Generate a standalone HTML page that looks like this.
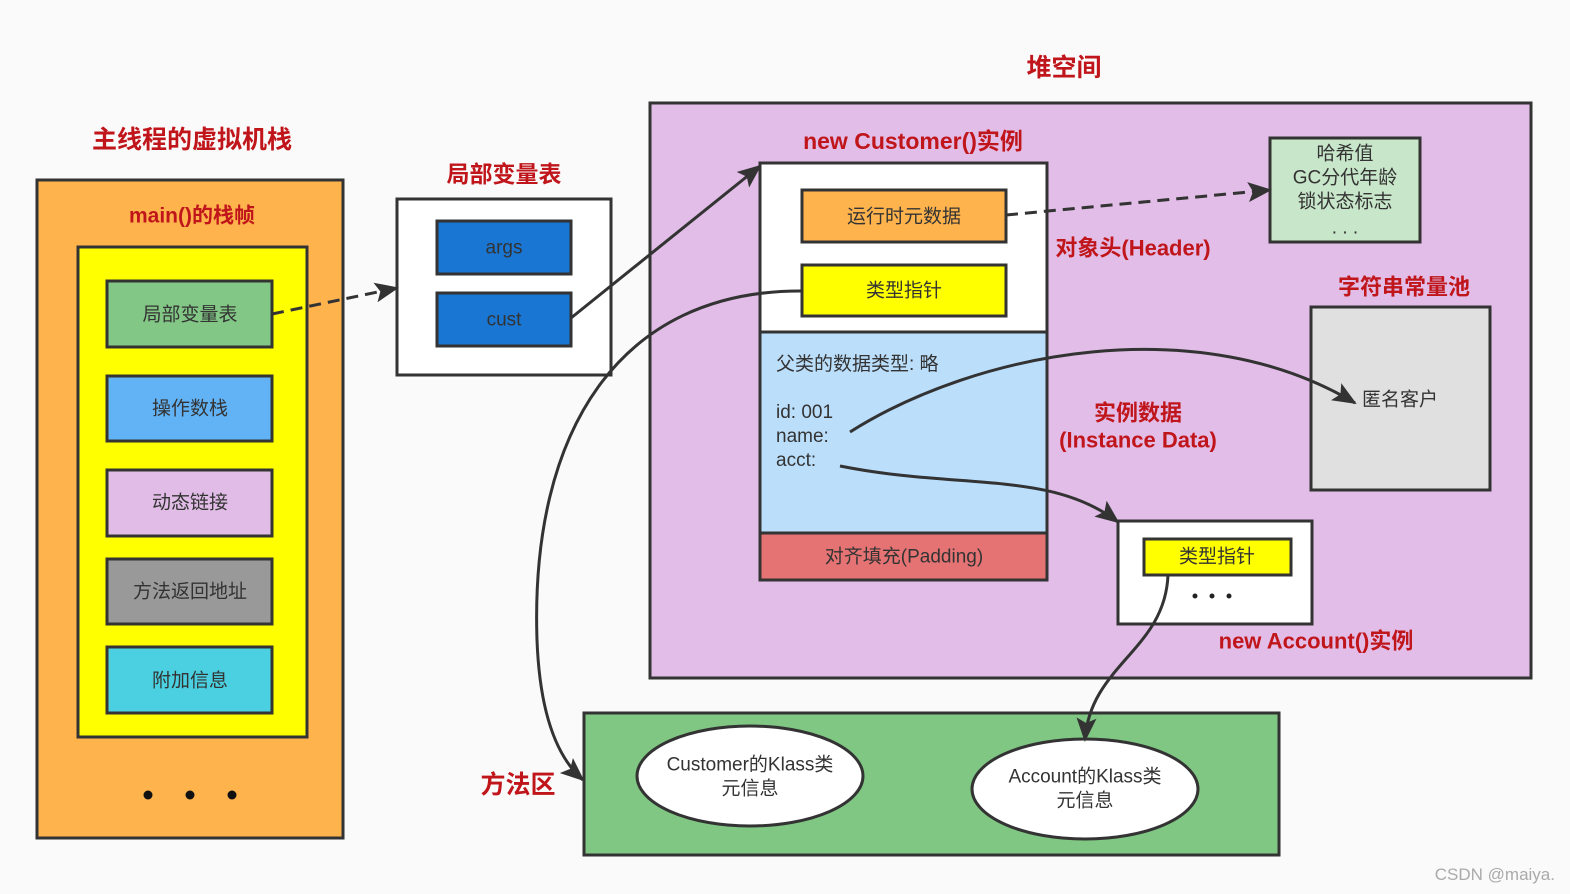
<!DOCTYPE html>
<html><head><meta charset="utf-8"><style>
html,body{margin:0;padding:0;background:#fafafa;}
svg{display:block;}
text{font-family:"Liberation Sans","Noto Sans CJK SC",sans-serif;}
.t{font-size:19px;fill:#333;text-anchor:middle;dominant-baseline:central;}
.r{font-weight:bold;fill:#c0161b;text-anchor:middle;dominant-baseline:central;}
.b{stroke:#333;stroke-width:3;}
</style></head><body>
<svg width="1570" height="894" viewBox="0 0 1570 894" xmlns="http://www.w3.org/2000/svg">
<defs>
<marker id="a" markerWidth="12" markerHeight="10" refX="11" refY="5" orient="auto" markerUnits="userSpaceOnUse" viewBox="0 0 12 10">
<path d="M0,0 L12,5 L0,10 L3,5 Z" fill="#333"/></marker>
<marker id="A" markerWidth="24" markerHeight="20" refX="22" refY="10" orient="auto" markerUnits="userSpaceOnUse" viewBox="0 0 24 20">
<path d="M0,0 L24,10 L0,20 L5,10 Z" fill="#333"/></marker>
</defs>
<rect width="1570" height="894" fill="#fafafa"/>

<!-- stack -->
<text class="r" x="192" y="140" font-size="25">主线程的虚拟机栈</text>
<rect x="37" y="180" width="306" height="658" fill="#ffb34d" class="b"/>
<text class="r" x="192" y="216" font-size="21">main()的栈帧</text>
<rect x="78" y="247" width="229" height="490" fill="#ffff00" class="b"/>
<rect x="107" y="281" width="165" height="66" fill="#82c785" class="b"/><text class="t" x="190" y="315">局部变量表</text>
<rect x="107" y="376" width="165" height="65" fill="#62b3f5" class="b"/><text class="t" x="190" y="409">操作数栈</text>
<rect x="107" y="470" width="165" height="66" fill="#e0bce6" class="b"/><text class="t" x="190" y="503">动态链接</text>
<rect x="107" y="559" width="165" height="65" fill="#999999" class="b"/><text class="t" x="190" y="592">方法返回地址</text>
<rect x="107" y="647" width="165" height="66" fill="#4ad0e0" class="b"/><text class="t" x="190" y="681">附加信息</text>
<circle cx="148" cy="795" r="4.5" fill="#111"/><circle cx="190" cy="795" r="4.5" fill="#111"/><circle cx="232" cy="795" r="4.5" fill="#111"/>

<!-- local var table -->
<text class="r" x="504" y="174" font-size="23">局部变量表</text>
<rect x="397" y="199" width="214" height="176" fill="#fff" class="b"/>
<rect x="437" y="221" width="134" height="53" fill="#1976d2" class="b"/><text class="t" x="504" y="248">args</text>
<rect x="437" y="293" width="134" height="53" fill="#1976d2" class="b"/><text class="t" x="504" y="320">cust</text>

<!-- heap -->
<text class="r" x="1064" y="68" font-size="25">堆空间</text>
<rect x="650" y="103" width="881" height="575" fill="#e1bde7" class="b"/>
<text class="r" x="913" y="141" font-size="23">new Customer()实例</text>
<rect x="760" y="163" width="287" height="169" fill="#fff" class="b"/>
<rect x="802" y="190" width="204" height="52" fill="#ffb34d" class="b"/><text class="t" x="904" y="217">运行时元数据</text>
<rect x="802" y="265" width="204" height="51" fill="#ffff00" class="b"/><text class="t" x="904" y="291">类型指针</text>
<rect x="760" y="332" width="287" height="201" fill="#bbdefb" class="b"/>
<text x="776" y="370" font-size="19" fill="#333">父类的数据类型:  略</text>
<text x="776" y="418" font-size="19" fill="#333">id: 001</text>
<text x="776" y="442" font-size="19" fill="#333">name:</text>
<text x="776" y="466" font-size="19" fill="#333">acct:</text>
<rect x="760" y="533" width="287" height="47" fill="#e57373" class="b"/><text class="t" x="904" y="557">对齐填充(Padding)</text>
<text class="r" x="1133" y="248" font-size="22">对象头(Header)</text>
<rect x="1270" y="138" width="150" height="104" fill="#c8e6c9" class="b"/>
<text class="t" x="1345" y="154">哈希值</text>
<text class="t" x="1345" y="178">GC分代年龄</text>
<text class="t" x="1345" y="202">锁状态标志</text>
<text class="t" x="1345" y="228" font-size="14">. . .</text>
<text class="r" x="1404" y="287" font-size="22">字符串常量池</text>
<rect x="1311" y="307" width="179" height="183" fill="#e0e0e0" class="b"/>
<text class="t" x="1400" y="400">匿名客户</text>
<text class="r" x="1138" y="413" font-size="22">实例数据</text>
<text class="r" x="1138" y="440" font-size="22">(Instance Data)</text>
<rect x="1118" y="521" width="194" height="103" fill="#fff" class="b"/>
<rect x="1144" y="539" width="147" height="36" fill="#ffff00" class="b"/><text class="t" x="1217" y="557">类型指针</text>
<circle cx="1195" cy="596" r="2.5" fill="#222"/><circle cx="1212" cy="596" r="2.5" fill="#222"/><circle cx="1229" cy="596" r="2.5" fill="#222"/>
<text class="r" x="1316" y="641" font-size="22">new Account()实例</text>

<!-- method area -->
<text class="r" x="518" y="785" font-size="25">方法区</text>
<rect x="584" y="713" width="695" height="142" fill="#81c784" class="b"/>
<ellipse cx="750" cy="776" rx="113" ry="50" fill="#fff" class="b"/>
<text class="t" x="750" y="765">Customer的Klass类</text><text class="t" x="750" y="789">元信息</text>
<ellipse cx="1085" cy="789" rx="113" ry="50" fill="#fff" class="b"/>
<text class="t" x="1085" y="777">Account的Klass类</text><text class="t" x="1085" y="801">元信息</text>

<text x="1555" y="880" font-size="17" fill="#aaa" text-anchor="end">CSDN @maiya.</text>

<!-- connectors -->
<g fill="none" stroke="#333" stroke-width="3">
<path d="M272,314 L397,288" stroke-dasharray="12,7" marker-end="url(#A)"/>
<path d="M571,318 L760,166" marker-end="url(#A)"/>
<path d="M1006,215 L1270,190" stroke-dasharray="12,7" marker-end="url(#A)"/>
<path d="M802,291 C 620,290 530,430 537,640 C 540,720 560,760 583,780" marker-end="url(#A)"/>
<path d="M850,432 C 980,350 1200,310 1355,403" marker-end="url(#A)"/>
<path d="M840,466 C 960,490 1050,470 1118,522" marker-end="url(#A)"/>
<path d="M1168,575 C 1165,650 1090,665 1085,740" marker-end="url(#A)"/>
</g>
</svg>
</body></html>
